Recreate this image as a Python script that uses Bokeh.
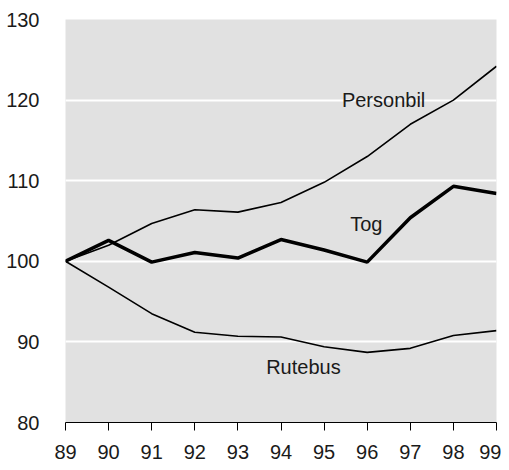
from bokeh.plotting import figure
from bokeh.models import Range1d, FixedTicker, ColumnDataSource
from bokeh.core.properties import value
from bokeh.embed import file_html
from bokeh.resources import INLINE

years = [89, 90, 91, 92, 93, 94, 95, 96, 97, 98, 99]
personbil = [100, 102.0, 104.7, 106.4, 106.1, 107.3, 109.8, 113.0, 117.0, 120.0, 124.2]
tog = [100, 102.6, 99.9, 101.1, 100.4, 102.7, 101.4, 99.9, 105.4, 109.3, 108.4]
rutebus = [100, 96.8, 93.5, 91.2, 90.7, 90.6, 89.4, 88.7, 89.2, 90.8, 91.4]

label_names = ["Personbil", "Tog", "Rutebus"]
label_x = [96.38, 95.98, 94.52]
label_y = [120.0, 104.6, 86.9]

y_ticks = [80, 90, 100, 110, 120, 130]

FONT = "Liberation Sans"
FS = "20px"

p = figure(width=501, height=462, output_backend="svg", toolbar_location=None,
           x_range=Range1d(89, 99), y_range=Range1d(80, 130),
           min_border_left=65, min_border_right=5, min_border_top=19,
           min_border_bottom=40)
p.outline_line_color = None
p.background_fill_color = "#e1e1e1"
p.border_fill_color = "white"

p.xgrid.grid_line_color = None
p.ygrid.grid_line_color = "white"
p.ygrid.grid_line_width = 2
p.ygrid.ticker = FixedTicker(ticks=y_ticks)

p.xaxis.ticker = FixedTicker(ticks=years)
p.xaxis.axis_line_color = "black"
p.xaxis.axis_line_width = 1
p.xaxis.major_tick_line_color = "black"
p.xaxis.major_tick_out = 8
p.xaxis.major_tick_in = 0
p.xaxis.minor_tick_line_color = None
p.xaxis.major_label_standoff = 14
p.xaxis.major_label_text_font = FONT
p.xaxis.major_label_text_font_size = FS
p.xaxis.major_label_text_color = "#1a1a1a"

p.yaxis.ticker = FixedTicker(ticks=y_ticks)
p.yaxis.axis_line_color = None
p.yaxis.major_tick_line_color = None
p.yaxis.minor_tick_line_color = None
p.yaxis.major_label_standoff = 20
p.yaxis.major_label_text_font = FONT
p.yaxis.major_label_text_font_size = FS
p.yaxis.major_label_text_color = "#1a1a1a"

p.line(years, personbil, line_color="black", line_width=1.6)
p.line(years, rutebus, line_color="black", line_width=1.6)
p.line(years, tog, line_color="black", line_width=3.5)

src = ColumnDataSource(dict(x=label_x, y=label_y, t=label_names))
p.text(x="x", y="y", text="t", source=src, text_font=value(FONT),
       text_font_size=FS, text_align="center", text_baseline="middle",
       text_color="#1a1a1a")

open("out.html", "w").write(file_html(p, INLINE))
